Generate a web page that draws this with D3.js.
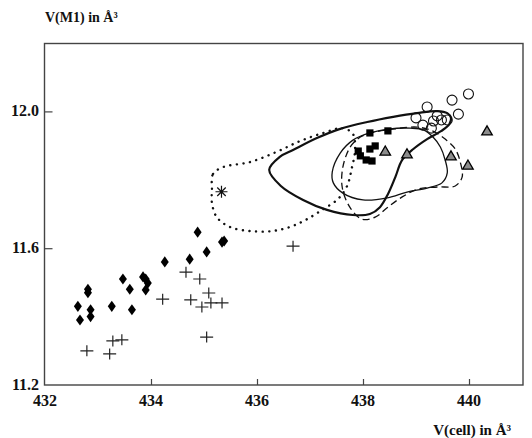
<!DOCTYPE html>
<html>
<head>
<meta charset="utf-8">
<script src="https://cdn.jsdelivr.net/npm/d3@7"></script>
<style>
  body { margin: 0; background: #fff; }
  svg { display: block; }
  text { font-family: "Liberation Serif", "Times New Roman", serif; font-weight: bold; fill: #111; }
</style>
</head>
<body>
<div id="chart"></div>
<script>
"use strict";

// tick values
const xTicks = [432, 434, 436, 438, 440];
const yTicks = [11.2, 11.6, 12.0];

// point groups, [V(cell), V(M1)]
const diamondPts = [[432.62, 11.43], [432.66, 11.39], [432.81, 11.48], [432.81, 11.47], [432.86, 11.42],
  [432.86, 11.40], [433.26, 11.43], [433.47, 11.51], [433.60, 11.48], [433.64, 11.42], [433.85, 11.516],
  [433.90, 11.51], [433.94, 11.498], [433.90, 11.478], [434.26, 11.56], [434.73, 11.568], [434.88, 11.647],
  [435.05, 11.589], [435.34, 11.618], [435.38, 11.621]];

const crossPts = [[432.79, 11.30], [433.22, 11.291], [433.28, 11.329], [433.45, 11.332], [434.22, 11.451],
  [434.66, 11.53], [434.92, 11.51], [434.75, 11.449], [435.09, 11.469], [434.96, 11.428], [435.13, 11.44],
  [435.34, 11.44], [435.05, 11.34], [436.68, 11.606]];

const starPts = [[435.33, 11.765]];

const squarePts = [[438.13, 11.937], [438.47, 11.943], [437.91, 11.884], [437.95, 11.870], [438.13, 11.890],
  [438.23, 11.899], [438.06, 11.858], [438.17, 11.855]];

const trianglePts = [[438.42, 11.881], [438.83, 11.873], [439.66, 11.867], [439.98, 11.840], [440.34, 11.940]];

const circlePts = [[439.99, 12.051], [439.68, 12.033], [439.21, 12.013], [439.80, 11.992], [439.00, 11.981],
  [439.13, 11.960], [439.40, 11.987], [439.48, 11.975], [439.59, 11.975], [439.29, 11.951], [439.33, 11.972]];

// density contours
const thickContour = [[436.23, 11.829], [436.43, 11.867], [436.68, 11.887], [437.13, 11.922], [437.57, 11.949],
  [438.08, 11.969], [438.57, 11.984], [439.02, 11.995], [439.40, 12.001], [439.59, 11.995], [439.66, 11.981],
  [439.63, 11.963], [439.48, 11.943], [439.21, 11.919], [438.95, 11.890], [438.74, 11.858], [438.61, 11.808],
  [438.47, 11.758], [438.32, 11.720], [438.13, 11.700], [437.81, 11.697], [437.32, 11.712], [436.87, 11.741],
  [436.45, 11.782]];

const thinContour = [[437.42, 11.823], [437.57, 11.878], [437.81, 11.916], [438.13, 11.937], [438.51, 11.949],
  [438.89, 11.951], [439.14, 11.946], [439.32, 11.925], [439.46, 11.896], [439.55, 11.858], [439.59, 11.820],
  [439.49, 11.791], [439.21, 11.776], [438.83, 11.764], [438.46, 11.747], [438.00, 11.741], [437.62, 11.761],
  [437.44, 11.791]];

const dashedContour = [[437.62, 11.837], [437.76, 11.896], [437.95, 11.925], [438.23, 11.940], [438.61, 11.949],
  [439.02, 11.954], [439.31, 11.943], [439.55, 11.919], [439.74, 11.890], [439.84, 11.849], [439.87, 11.808],
  [439.74, 11.782], [439.40, 11.779], [439.04, 11.773], [438.74, 11.750], [438.47, 11.720], [438.23, 11.691],
  [437.98, 11.685], [437.76, 11.718], [437.61, 11.776]];

const dottedContour = [[435.15, 11.770], [435.17, 11.817], [435.36, 11.837], [435.87, 11.852], [436.36, 11.881],
  [436.81, 11.913], [437.25, 11.937], [437.62, 11.951], [437.81, 11.934], [437.85, 11.887], [437.79, 11.835],
  [437.70, 11.782], [437.53, 11.744], [437.23, 11.712], [436.91, 11.682], [436.62, 11.662], [436.28, 11.650],
  [435.87, 11.650], [435.49, 11.662], [435.24, 11.691], [435.15, 11.732]];

(function () {
  let width = 532;
  let height = 438;

  let svg = d3.select('#chart').append('svg')
    .attr('width', width)
    .attr('height', height);

  let xScale = d3.scaleLinear().domain([432, 441]).range([45, 522]);
  let yScale = d3.scaleLinear().domain([11.2, 12.2]).range([385, 43]);

  let axisColor = '#444';

  // frame
  svg.append('rect')
    .attr('x', 44.5)
    .attr('y', 43.5)
    .attr('width', 523 - 44.5)
    .attr('height', 385 - 43.5)
    .style('fill', 'none')
    .style('stroke', axisColor)
    .style('stroke-width', 1.4);

  // x axis, inward ticks
  let xAxis = d3.axisTop(xScale)
    .tickValues(xTicks.slice(1))
    .tickSize(6)
    .tickFormat('');
  let gx = svg.append('g')
    .attr('transform', 'translate(0,385)')
    .call(xAxis);
  gx.select('.domain').remove();
  gx.selectAll('line').style('stroke', axisColor).style('stroke-width', 1.2);

  svg.selectAll('text.xlabel')
    .data(xTicks)
    .enter()
    .append('text')
    .attr('class', 'xlabel')
    .attr('x', function (d) { return xScale(d); })
    .attr('y', 406)
    .attr('text-anchor', 'middle')
    .style('font-size', '16px')
    .text(function (d) { return d; });

  // y axis, inward ticks
  let yAxis = d3.axisRight(yScale)
    .tickValues(yTicks.slice(1))
    .tickSize(8)
    .tickFormat('');
  let gy = svg.append('g')
    .attr('transform', 'translate(44.5,0)')
    .call(yAxis);
  gy.select('.domain').remove();
  gy.selectAll('line').style('stroke', axisColor).style('stroke-width', 1.2);

  svg.selectAll('text.ylabel')
    .data(yTicks)
    .enter()
    .append('text')
    .attr('class', 'ylabel')
    .attr('x', 39)
    .attr('y', function (d) { return yScale(d) + 5; })
    .attr('text-anchor', 'end')
    .style('font-size', '16px')
    .text(function (d) { return d.toFixed(1); });

  // axis titles
  svg.append('text')
    .attr('x', 45)
    .attr('y', 22)
    .style('font-size', '14px')
    .text('V(M1) in Å³');

  svg.append('text')
    .attr('x', 511)
    .attr('y', 435)
    .attr('text-anchor', 'end')
    .style('font-size', '15px')
    .text('V(cell) in Å³');

  // contours
  let contourLine = d3.line()
    .x(function (d) { return xScale(d[0]); })
    .y(function (d) { return yScale(d[1]); })
    .curve(d3.curveCatmullRomClosed.alpha(0.5));

  let contours = [
    { pts: dottedContour, w: 2.4, dash: '0.1,6.5' },
    { pts: dashedContour, w: 1.3, dash: '7,4' },
    { pts: thinContour, w: 1.3, dash: null },
    { pts: thickContour, w: 2.2, dash: null }
  ];

  svg.selectAll('path.contour')
    .data(contours)
    .enter()
    .append('path')
    .attr('class', 'contour')
    .attr('d', function (c) { return contourLine(c.pts); })
    .style('fill', 'none')
    .style('stroke', '#111')
    .style('stroke-width', function (c) { return c.w; })
    .style('stroke-linecap', function (c) { return c.dash && c.dash.startsWith('0.1') ? 'round' : 'butt'; })
    .style('stroke-dasharray', function (c) { return c.dash; });

  // symbol shapes
  let diamondShape = {
    draw: function (ctx) {
      ctx.moveTo(0, -5.6);
      ctx.lineTo(4, 0);
      ctx.lineTo(0, 5.6);
      ctx.lineTo(-4, 0);
      ctx.closePath();
    }
  };
  let plusShape = {
    draw: function (ctx) {
      ctx.moveTo(-6.5, 0);
      ctx.lineTo(6.5, 0);
      ctx.moveTo(0, -5.5);
      ctx.lineTo(0, 5.5);
    }
  };
  let starShape = {
    draw: function (ctx) {
      for (let i = 0; i < 4; i++) {
        let a = i * Math.PI / 4;
        ctx.moveTo(-6 * Math.cos(a), -6 * Math.sin(a));
        ctx.lineTo(6 * Math.cos(a), 6 * Math.sin(a));
      }
    }
  };

  function place(d) {
    return 'translate(' + xScale(d[0]) + ',' + yScale(d[1]) + ')';
  }

  svg.selectAll('.diamond')
    .data(diamondPts)
    .enter()
    .append('path')
    .attr('class', 'diamond')
    .attr('d', d3.symbol().type(diamondShape))
    .attr('transform', place)
    .style('fill', '#000');

  svg.selectAll('.plus')
    .data(crossPts)
    .enter()
    .append('path')
    .attr('class', 'plus')
    .attr('d', d3.symbol().type(plusShape))
    .attr('transform', place)
    .style('fill', 'none')
    .style('stroke', '#222')
    .style('stroke-width', 1.2);

  svg.selectAll('.star')
    .data(starPts)
    .enter()
    .append('path')
    .attr('class', 'star')
    .attr('d', d3.symbol().type(starShape))
    .attr('transform', place)
    .style('fill', 'none')
    .style('stroke', '#111')
    .style('stroke-width', 1.2);

  svg.selectAll('.square')
    .data(squarePts)
    .enter()
    .append('path')
    .attr('class', 'square')
    .attr('d', d3.symbol().type(d3.symbolSquare).size(52))
    .attr('transform', place)
    .style('fill', '#000');

  svg.selectAll('.tri')
    .data(trianglePts)
    .enter()
    .append('path')
    .attr('class', 'tri')
    .attr('d', d3.symbol().type(d3.symbolTriangle).size(48))
    .attr('transform', place)
    .style('fill', '#8c8c8c')
    .style('stroke', '#000')
    .style('stroke-width', 1.3);

  svg.selectAll('.ring')
    .data(circlePts)
    .enter()
    .append('circle')
    .attr('class', 'ring')
    .attr('cx', function (d) { return xScale(d[0]); })
    .attr('cy', function (d) { return yScale(d[1]); })
    .attr('r', 5)
    .style('fill', 'none')
    .style('stroke', '#111')
    .style('stroke-width', 1.1);
})();
</script>
</body>
</html>
